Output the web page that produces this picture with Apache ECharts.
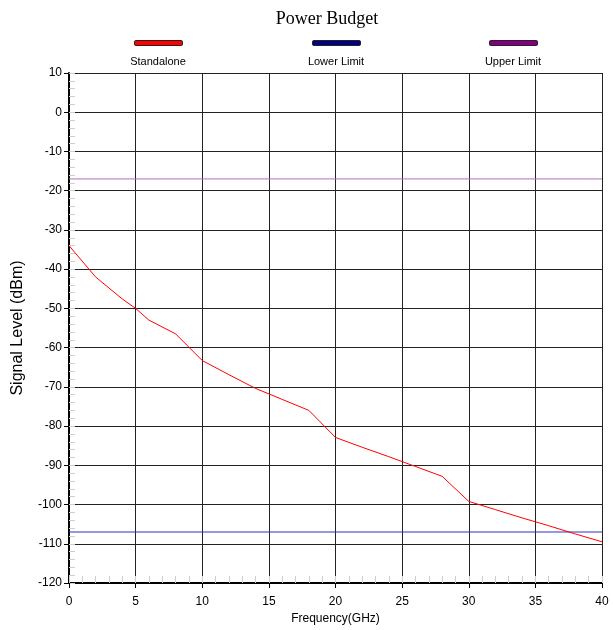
<!DOCTYPE html>
<html><head><meta charset="utf-8">
<script src="https://cdn.jsdelivr.net/npm/echarts@6/dist/echarts.min.js"></script>
<style>html,body{margin:0;padding:0;background:#fff}#c{width:613px;height:630px}</style>
</head><body><div id="c"></div>
<script>
const titleText = 'Power Budget';
const seriesNames = ['Standalone', 'Lower Limit', 'Upper Limit'];
const freq = [0,2,4,5,6,8,10,12,14,16,18,20,22,24,26,28,30,32,34,36,38,40];
const standalone = [-34,-42,-47.6,-50,-53,-56.5,-63.3,-66.9,-70.4,-73.2,-76,-82.9,-85.4,-87.8,-90.3,-92.8,-99.2,-101.3,-103.4,-105.4,-107.5,-109.5];
const lowerLimit = [[0,-107],[40,-107]];
const upperLimit = [[0,-17],[40,-17]];
const xName = 'Frequency(GHz)';
const yName = 'Signal Level (dBm)';

const font = 'Liberation Sans, Arial, sans-serif';
const gridRect = {left:69, right:11, top:73, bottom:47};
const chart = echarts.init(document.getElementById('c'));
const legendPos = [158, 336, 513];
const legendColors = ['#ff0000', '#000080', '#800080'];
chart.setOption({
  animation:false,
  backgroundColor:'#fff',
  title:{text:titleText, left:322, textAlign:'center', top:5,
    textStyle:{fontFamily:'Liberation Serif, Times New Roman, serif', fontWeight:'normal', fontSize:18, color:'#000'}},
  legend: seriesNames.map((n,i)=>({
    data:[n], left:legendPos[i]-24, top:40, itemWidth:48, itemHeight:5, icon:'roundRect',
    itemStyle:{color:legendColors[i], borderColor:'#222', borderWidth:1},
    formatter:()=>'', selectedMode:false, padding:0, itemGap:0
  })),
  graphic: seriesNames.map((n,i)=>({
    type:'text', x:legendPos[i], y:56, style:{text:n, font:'11px '+font, fill:'#000', textAlign:'center'}
  })),
  grid:[Object.assign({}, gridRect), Object.assign({}, gridRect)],
  xAxis:[{
    type:'value', min:0, max:40, interval:5, gridIndex:0,
    name:xName, nameLocation:'middle', nameGap:30,
    nameTextStyle:{fontFamily:font, fontSize:12, color:'#000'},
    axisLine:{show:true, onZero:false, lineStyle:{color:'#000', width:2}},
    axisTick:{show:true, length:5, lineStyle:{color:'#000'}},
    axisLabel:{fontFamily:font, fontSize:12, color:'#000', margin:13},
    splitLine:{show:true, lineStyle:{color:'#222', width:1}}
  },{
    type:'value', min:0, max:40, interval:1, gridIndex:1, position:'bottom',
    axisLine:{show:false, onZero:false}, axisLabel:{show:false}, splitLine:{show:false},
    axisTick:{show:true, inside:true, length:7, lineStyle:{color:'#cfcfcf'}}
  }],
  yAxis:[{
    type:'value', min:-120, max:10, interval:10, gridIndex:0,
    name:yName, nameLocation:'middle', nameGap:43,
    nameTextStyle:{fontFamily:font, fontSize:16, color:'#000'},
    axisLine:{show:true, onZero:false, lineStyle:{color:'#000', width:2}},
    axisTick:{show:true, length:5, lineStyle:{color:'#000'}},
    axisLabel:{fontFamily:font, fontSize:12, color:'#000', margin:7},
    splitLine:{show:true, lineStyle:{color:'#222', width:1}}
  },{
    type:'value', min:-120, max:10, interval:2, gridIndex:1, position:'left',
    axisLine:{show:false, onZero:false}, axisLabel:{show:false}, splitLine:{show:false},
    axisTick:{show:true, inside:true, length:6, lineStyle:{color:'#cfcfcf'}}
  }],
  series:[
    {name:seriesNames[0], type:'line', data:freq.map((f,i)=>[f,standalone[i]]), symbol:'none',
      lineStyle:{color:'#ff0000', width:1}, itemStyle:{color:'#ff0000'}, z:5},
    {name:seriesNames[1], type:'line', data:lowerLimit, symbol:'none',
      lineStyle:{color:'#3030c0', width:1}, itemStyle:{color:'#000080'}, z:4},
    {name:seriesNames[2], type:'line', data:upperLimit, symbol:'none',
      lineStyle:{color:'#b070c0', width:1}, itemStyle:{color:'#800080'}, z:4}
  ]
});
</script></body></html>
